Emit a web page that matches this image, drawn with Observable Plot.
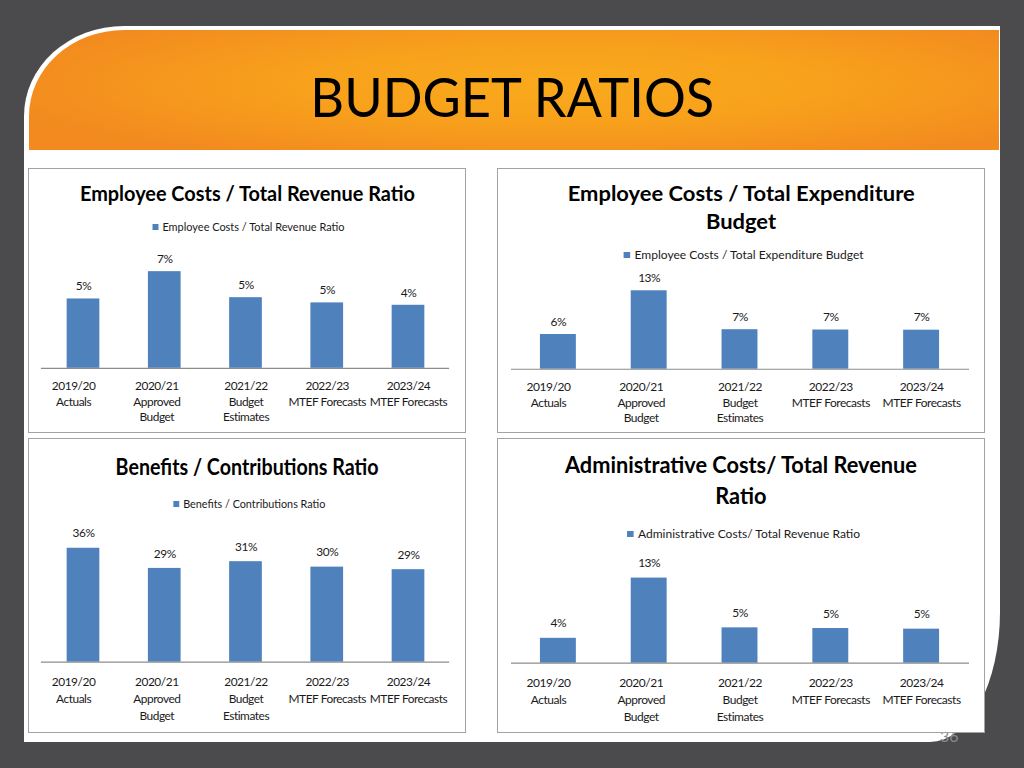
<!DOCTYPE html>
<html><head><meta charset="utf-8">
<script src="https://cdn.jsdelivr.net/npm/d3@7"></script>
<script src="https://cdn.jsdelivr.net/npm/@observablehq/plot@0.6"></script>
<style>
html,body{margin:0;padding:0;}
body{width:1024px;height:768px;background:#4b4b4d;position:relative;overflow:hidden;font-family:Lato,"Open Sans",sans-serif;}
.slide{position:absolute;left:24px;top:26px;width:976px;height:716px;background:#fff;border-top-left-radius:100px 90px;border-bottom-right-radius:70px 130px;}
.header{position:absolute;left:29px;top:30px;width:970px;height:120px;border-top-left-radius:95px 86px;
  background:radial-gradient(ellipse 60% 70% at 55% 45%, #f9aa1b 0%, #f8a11c 45%, #f28a1f 100%);}
.abs{position:absolute;text-align:center;white-space:nowrap;}
.abs span{display:inline-block;transform-origin:50% 50%;}
.panel{position:absolute;border:1px solid #a3a3a3;background:#fff;box-sizing:border-box;}
.panel svg{position:absolute;overflow:visible;}
.panel svg text{letter-spacing:-0.45px;}
.sq{display:inline-block;width:6px;height:6px;background:#4f81bd;margin-right:4px;vertical-align:1px;}
.pagenum{position:absolute;left:940px;top:726px;font-size:16px;color:#8c8c8c;}
</style></head>
<body>
<div class="slide"></div>
<div class="header"></div>
<div class="pagenum">36</div>
<script>
// ---- data ----
const mainTitle = "BUDGET RATIOS";
const categories = ["2019/20\nActuals", "2020/21\nApproved\nBudget", "2021/22\nBudget\nEstimates", "2022/23\nMTEF Forecasts", "2023/24\nMTEF Forecasts"];
const empRevenueTitle = ["Employee Costs / Total Revenue Ratio"];
const empRevenueSeries = "Employee Costs / Total Revenue Ratio";
const empRevenue = [4.93, 6.87, 5.02, 4.65, 4.48];
const empExpTitle = ["Employee Costs / Total Expenditure", "Budget"];
const empExpSeries = "Employee Costs / Total Expenditure Budget";
const empExp = [5.8, 13.1, 6.6, 6.55, 6.52];
const benefitsTitle = ["Benefits / Contributions Ratio"];
const benefitsSeries = "Benefits / Contributions Ratio";
const benefits = [35.6, 29.3, 31.4, 29.7, 28.9];
const adminTitle = ["Administrative Costs/ Total Revenue", "Ratio"];
const adminSeries = "Administrative Costs/ Total Revenue Ratio";
const admin = [3.8, 13.0, 5.4, 5.3, 5.2];

// ---- layout ----
const FONT = 'Lato, "Open Sans", sans-serif';
const BLUE = "#4f81bd";

function fitText(parent, text, cx, cy, size, weight, targetW, scaleOverride) {
  const d = document.createElement("div");
  d.className = "abs";
  d.style.left = (cx - 400) + "px"; d.style.width = "800px";
  d.style.top = (cy - size * 0.6) + "px";
  d.style.fontSize = size + "px"; d.style.lineHeight = (size * 1.2) + "px";
  d.style.fontWeight = weight; d.style.color = "#000";
  const s = document.createElement("span");
  if (typeof text === "string") s.textContent = text; else s.appendChild(text);
  d.appendChild(s); parent.appendChild(d);
  let k = scaleOverride;
  if (k == null && targetW) k = targetW / s.getBoundingClientRect().width;
  if (k) s.style.transform = `scaleX(${k})`;
  return k;
}

// main title
fitText(document.body, mainTitle, 512, 97, 54, "normal", 404);

const panels = [
  {box:[28,168,466,433], title:empRevenueTitle, tcx:247, tys:[193], tsize:20, tw:335,
   series:empRevenueSeries, lcx:249, ly:227, lw:192, values:empRevenue,
   axisY:369.3, x0:41, x1:453, ppu:14.2, plotH:125, labelDy:12.6, lh:1.3, pad:11},
  {box:[497,168,985,433], title:empExpTitle, tcx:741, tys:[193,221], tsize:20, tw:347,
   series:empExpSeries, lcx:744, ly:255, lw:240, values:empExp,
   axisY:369, x0:511, x1:970, ppu:6.0, plotH:125, labelDy:12.6, lh:1.3, pad:11},
  {box:[28,438,466,733], title:benefitsTitle, tcx:247, tys:[467], tsize:22, tw:263,
   series:benefitsSeries, lcx:249, ly:504, lw:152, values:benefits,
   axisY:662.7, x0:41, x1:453, ppu:3.23, plotH:140, labelDy:14.8, lh:1.43, pad:11.5},
  {box:[497,438,985,733], title:adminTitle, tcx:741, tys:[465,496], tsize:22, tw:352,
   series:adminSeries, lcx:743.5, ly:534, lw:233, values:admin,
   axisY:662.7, x0:511, x1:970, ppu:6.56, plotH:140, labelDy:14.8, lh:1.43, pad:11.5}
];

const M = 14, MT = 4, MB = 62;
for (const p of panels) {
  const [bx0, by0, bx1, by1] = p.box;
  const div = document.createElement("div");
  div.className = "panel";
  Object.assign(div.style, {left: bx0 + "px", top: by0 + "px", width: (bx1 - bx0) + "px", height: (by1 - by0) + "px"});
  document.body.appendChild(div);
  const ox = bx0 + 1, oy = by0 + 1;
  // title
  let k = null;
  p.title.forEach((t, i) => {
    const kk = fitText(div, t, p.tcx - ox, p.tys[i] - oy, p.tsize, "bold", i === 0 ? p.tw : null, i === 0 ? null : k);
    if (i === 0) k = kk;
  });
  // legend
  const frag = document.createElement("span");
  const sq = document.createElement("span"); sq.className = "sq";
  frag.appendChild(sq); frag.appendChild(document.createTextNode(p.series));
  frag.style.color = "#1a1a1a";
  fitText(div, frag, p.lcx - ox, p.ly - oy, 11, "normal", p.lw);

  // chart
  const data = categories.map((c, i) => ({cat: c, v: p.values[i]}));
  const W = p.x1 - p.x0 + 2 * M;
  const H = MT + p.plotH + MB;
  const tick = {tickSize: 0, tickPadding: p.pad, fontSize: 12, lineHeight: p.lh, label: null};
  const chart = Plot.plot({
    width: W, height: H, marginLeft: M, marginRight: M, marginTop: MT, marginBottom: MB,
    style: {fontFamily: FONT, fontSize: "12px", color: "#1a1a1a", background: "transparent", overflow: "visible"},
    x: {domain: categories, paddingInner: 0.6, paddingOuter: 0.3, label: null, axis: null},
    y: {domain: [0, p.plotH / p.ppu], axis: null},
    marks: [
      Plot.barY(data, {x: "cat", y: "v", fill: BLUE}),
      Plot.ruleY([0], {stroke: "#8c8c8c", strokeWidth: 1.2}),
      Plot.text(data, {x: "cat", y: "v", text: d => Math.round(d.v) + "%", dy: -p.labelDy, fontSize: 12, fill: "#1a1a1a"}),
      Plot.axisX({...tick, ticks: [categories[0]], dx: -10}),
      Plot.axisX({...tick, ticks: [categories[1]], dx: -8}),
      Plot.axisX({...tick, ticks: categories.slice(2)})
    ]
  });
  chart.style.left = (p.x0 - M - ox) + "px";
  chart.style.top = (p.axisY - p.plotH - MT - oy) + "px";
  div.appendChild(chart);
}
</script>
</body></html>
